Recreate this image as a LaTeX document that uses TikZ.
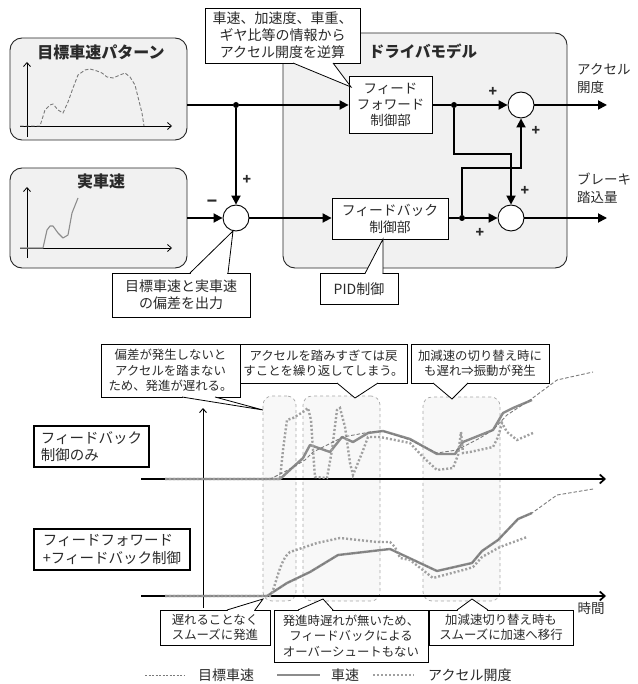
\documentclass[tikz,border=0pt]{standalone}
\usepackage{fontspec}
\setmainfont{Noto Sans CJK JP}
\usetikzlibrary{arrows.meta,calc}
\definecolor{txt}{HTML}{2A2A2A}
\definecolor{boxfill}{HTML}{F1F1F1}
\definecolor{curve}{HTML}{8C8C8C}
\definecolor{dotc}{HTML}{A0A0A0}
\definecolor{tgt}{HTML}{7A7A7A}
\definecolor{regfill}{HTML}{F8F8F8}
\definecolor{regline}{HTML}{A8A8A8}
\newcommand\callptr[3]{%
  \fill[white] (#1) -- (#2) -- (#3) -- cycle;
  \draw[white, line width=1.8pt] ($(#1)!0.7pt!(#3)$) -- ($(#3)!0.7pt!(#1)$);
  \draw[line width=0.8pt, line join=miter] (#1) -- (#2) -- (#3);
}
\begin{document}
\begin{tikzpicture}[x=1pt,y=-1pt,
  gbox/.style={draw=black!85, line width=0.9pt, rounded corners=12pt, fill=boxfill},
  blk/.style={draw=black, line width=0.8pt, fill=white, inner sep=0pt, align=center, text=txt},
  call/.style={draw=black, line width=0.8pt, fill=white, inner sep=0pt, align=center, text=txt},
  lbox/.style={draw=black, line width=1.2pt, fill=white, inner sep=0pt, align=left, text=txt,
     font=\fontsize{14.5}{17.5}\selectfont},
  sumc/.style={circle, draw=black, line width=0.9pt, fill=white, minimum size=26pt, inner sep=0pt},
  sig/.style={line width=1.8pt, -{Triangle[length=9pt,width=9pt]}},
  ln/.style={line width=1.8pt},
  jdot/.style={circle, fill=black, minimum size=6pt, inner sep=0pt},
  sgn/.style={font=\fontsize{14}{14}\selectfont\bfseries, text=txt, inner sep=0pt},
  ttl/.style={font=\fontsize{15.5}{18}\selectfont\bfseries, text=txt, inner sep=0pt},
  cf/.style={font=\fontsize{14}{17}\selectfont},
  sf/.style={font=\fontsize{12.4}{15.3}\selectfont},
  axis/.style={line width=0.8pt, -{Straight Barb[length=4pt,width=7pt]}},
  bigaxis/.style={line width=1.7pt, -{Straight Barb[length=5pt,width=9pt]}},
  spd/.style={draw=curve, line width=2.4pt, line join=round},
  acc/.style={draw=dotc, line width=2.4pt, dash pattern=on 2pt off 2pt},
  tg/.style={draw=tgt, line width=0.9pt, dash pattern=on 3.5pt off 2pt},
  reg/.style={draw=regline, fill=regfill, dashed, line width=0.7pt, rounded corners=9pt}
]
\useasboundingbox (0,0) rectangle (637,684);

% ---------------- top block diagram ----------------
\node[gbox, minimum width=284pt, minimum height=235pt] (dm) at (425,150.5) {};
\node[ttl] (dmt) at (423,51) {ドライバモデル};

\node[gbox, minimum width=177pt, minimum height=102pt] (b1) at (98.5,89) {};
\node[ttl, font=\fontsize{16}{18}\selectfont\bfseries] (b1t) at (101,52) {目標車速パターン};
\draw[axis] (27,137) -- (27,62);
\draw[axis] (20,126) -- (172,126);
\draw[tg, line width=0.9pt] (20,126) -- (40,126) -- (45,110) -- (50,105) -- (53,104) -- (58,110) -- (63,113)
  -- (68,102) -- (73,88) -- (78,75) -- (85,70) -- (90,69) -- (97,71) -- (102,73) -- (107,77)
  -- (113,78) -- (120,75) -- (125,73) -- (130,77) -- (135,85) -- (138,97) -- (142,113) -- (144,126);

\node[gbox, minimum width=177pt, minimum height=100pt] (b2) at (98.5,218) {};
\node[ttl, font=\fontsize{16}{18}\selectfont\bfseries] (b2t) at (101,181) {実車速};
\draw[axis] (27,258) -- (27,187);
\draw[axis] (20,248) -- (172,248);
\draw[draw=curve, line width=1.1pt, line join=round] (20,248) -- (43,248) -- (47,230) -- (50,226) -- (53,226)
  -- (58,233) -- (63,238) -- (68,235) -- (72,213) -- (78,198);

\node[blk, cf, font=\fontsize{13.5}{16}\selectfont, minimum width=83pt, minimum height=57pt] (ff) at (390.5,105) {フィード\\フォワード\\制御部};
\node[blk, cf, font=\fontsize{13.8}{17}\selectfont, minimum width=116pt, minimum height=41pt] (fb) at (390,218.5) {フィードバック\\制御部};

\node[sumc] (s0) at (236,218) {};
\node[sumc] (s1) at (521,105) {};
\node[sumc] (s2) at (511,218) {};
\node[jdot] (d1) at (236,105) {};
\node[jdot] (d2) at (454,105) {};
\node[jdot] (d3) at (462,218) {};
\coordinate (o1) at (607,105);
\coordinate (o2) at (607,218);

\draw[ln] (b1.east |- d1) -- (d1);
\draw[sig] (d1) -- (ff.west);
\draw[sig] (d1) -- (s0.north);
\draw[sig] (b2.east |- s0) -- (s0.west);
\draw[sig] (s0.east) -- (fb.west |- s0);
\draw[ln] (ff.east |- d2) -- (d2);
\draw[sig] (d2) -- (s1.west);
\draw[sig] (s1.east) -- (o1);
\draw[ln] (fb.east |- d3) -- (d3);
\draw[sig] (d3) -- (s2.west);
\draw[sig] (s2.east) -- (o2);
\draw[sig] (d2) |- (454,154) -| (s2.north);
\draw[sig] (d3) |- (462,168) -| (s1.south);

\node[sgn] (p1) at (247,180) {+};
\node[sgn, font=\fontsize{17}{17}\selectfont\bfseries] (m1) at (212,204) {−};
\node[sgn] (p2) at (493,92) {+};
\node[sgn] (p3) at (536,131) {+};
\node[sgn] (p4) at (525,191) {+};
\node[sgn] (p5) at (480,233) {+};

\node[anchor=north west, align=left, inner sep=0pt, text=txt, font=\fontsize{13.5}{18}\selectfont] (l1) at (577,63) {アクセル\\開度};
\node[anchor=north west, align=left, inner sep=0pt, text=txt, font=\fontsize{13.5}{18}\selectfont] (l2) at (577,173) {ブレーキ\\踏込量};

% callouts (top)
\node[call, cf, minimum width=155pt, minimum height=55pt] (c0) at (282.5,35.5) {車速、加速度、車重、\\ギヤ比等の情報から\\アクセル開度を逆算};
\coordinate (c0a) at (293,63); \coordinate (c0t) at (351,87); \coordinate (c0b) at (333,63);
\callptr{c0a}{c0t}{c0b}

\node[call, cf, minimum width=138pt, minimum height=44pt] (ce) at (181,295) {目標車速と実車速\\の偏差を出力};
\coordinate (cea) at (190,273); \coordinate (cet) at (233,231); \coordinate (ceb) at (228,273);
\callptr{cea}{cet}{ceb}

\node[call, cf, minimum width=78pt, minimum height=31pt] (cp) at (359,289) {PID制御};
\coordinate (cpa) at (365,273.5); \coordinate (cpt) at (383,239); \coordinate (cpb) at (383,273.5);
\callptr{cpa}{cpt}{cpb}

% ---------------- bottom graphs ----------------
\node[reg, minimum width=33pt, minimum height=205pt, inner sep=0pt] (r1) at (279.5,498.5) {};
\node[reg, minimum width=77pt, minimum height=205pt, inner sep=0pt] (r2) at (341.5,498.5) {};
\node[reg, minimum width=77pt, minimum height=204pt, inner sep=0pt] (r3) at (461.5,499) {};

\draw[axis, line width=0.9pt] (203,608) -- (203,408);
\draw[bigaxis] (141,479) -- (606,479);
\draw[bigaxis] (141,596) -- (606,596);
\node[inner sep=0pt, text=txt, font=\fontsize{13.5}{16}\selectfont] (tm) at (591,608) {時間};

% graph 1 (feedback only)
\draw[spd] (165,479) -- (280,479) -- (303,458) -- (310,445) -- (330,452) -- (342,437) -- (353,442)
  -- (368,433) -- (383,431) -- (410,439) -- (437,454) -- (455,454) -- (463,442) -- (493,430)
  -- (503,413) -- (513,408) -- (532,400);
\draw[acc] (165,479) -- (280,479) -- (283,450) -- (287,420) -- (293,418) -- (303,412) -- (308,408)
  -- (311,420) -- (313,450) -- (315,477) -- (327,478) -- (332,450) -- (337,410) -- (340,408)
  -- (345,427) -- (350,463) -- (353,475) -- (362,453) -- (368,437) -- (380,437) -- (410,443)
  -- (423,457) -- (437,470) -- (453,468) -- (458,455) -- (461,432) -- (463,453) -- (470,452)
  -- (493,447) -- (498,437) -- (502,423) -- (507,432) -- (517,440) -- (533,433);
\draw[tg] (165,479) -- (270,479) .. controls (285,472) and (295,466) .. (305,460)
  -- (313,452) -- (343,437) -- (370,432) -- (383,431) -- (410,440) -- (437,453) -- (457,450)
  -- (480,438) -- (493,430) -- (507,415) -- (530,400) -- (557,380) -- (593,372);

% graph 2 (feedforward + feedback)
\draw[spd] (165,596) -- (267,596) -- (287,583) -- (310,572) -- (338,555) -- (390,549) -- (437,571)
  -- (472,563) -- (482,551) -- (498,540) -- (518,519) -- (532,513);
\draw[acc] (165,596) -- (270,596) .. controls (276,588) and (279,560) .. (290,552)
  -- (317,543) -- (340,538) -- (377,542) -- (390,542) -- (395,547) -- (400,558) -- (410,560)
  -- (433,578) -- (467,569) -- (473,567) -- (482,557) -- (500,547) -- (527,537);
\draw[tg] (165,596) -- (267,596) -- (287,583) -- (310,572) -- (338,555) -- (390,549) -- (437,571)
  -- (472,563) -- (482,551) -- (498,540) -- (518,519) -- (532,513) -- (557,495) -- (593,489);

% label boxes
\node[lbox, minimum width=115pt, minimum height=41pt] (lb1) at (91.5,446.5) {フィードバック\\制御のみ};
\node[lbox, minimum width=156pt, minimum height=41pt] (lb2) at (112,549.5) {フィードフォワード\\+フィードバック制御};

% bottom callouts
\node[call, sf, minimum width=139pt, minimum height=53pt] (k1) at (170.5,370.5) {偏差が発生しないと\\アクセルを踏まない\\ため、発進が遅れる。};
\coordinate (k1a) at (182,397); \coordinate (k1t) at (263,410); \coordinate (k1b) at (215,397);
\callptr{k1a}{k1t}{k1b}

\node[call, sf, minimum width=167pt, minimum height=39pt] (k2) at (323.5,363.5) {アクセルを踏みすぎては戻\\すことを繰り返してしまう。};
\coordinate (k2a) at (337,383); \coordinate (k2t) at (355,398); \coordinate (k2b) at (378,383);
\callptr{k2a}{k2t}{k2b}

\node[call, sf, minimum width=138pt, minimum height=39pt] (k3) at (480,363.5) {加減速の切り替え時に\\も遅れ⇒振動が発生};
\coordinate (k3a) at (433,383); \coordinate (k3t) at (452,399); \coordinate (k3b) at (468,383);
\callptr{k3a}{k3t}{k3b}

\node[call, sf, minimum width=110pt, minimum height=35pt] (k4) at (215,627.5) {遅れることなく\\スムーズに発進};
\coordinate (k4a) at (227,610); \coordinate (k4t) at (263,599); \coordinate (k4b) at (255,610);
\callptr{k4a}{k4t}{k4b}

\node[call, sf, minimum width=154pt, minimum height=52pt] (k5) at (351,636) {発進時遅れが無いため、\\フィードバックによる\\オーバーシュートもない};
\coordinate (k5a) at (298,610); \coordinate (k5t) at (323,599); \coordinate (k5b) at (333,610);
\callptr{k5a}{k5t}{k5b}

\node[call, sf, minimum width=144pt, minimum height=35pt] (k6) at (501,627.5) {加減速切り替え時も\\スムーズに加速へ移行};
\coordinate (k6a) at (457,610); \coordinate (k6t) at (472,599); \coordinate (k6b) at (488,610);
\callptr{k6a}{k6t}{k6b}

% legend
\coordinate (lg1a) at (145,675); \coordinate (lg1b) at (185,675);
\draw[tg, dash pattern=on 2pt off 1.5pt] (lg1a) -- (lg1b);
\node[anchor=west, inner sep=0pt, text=txt, font=\fontsize{14}{16}\selectfont] (lgt1) at (198,675) {目標車速};
\coordinate (lg2a) at (277,675); \coordinate (lg2b) at (320,675);
\draw[spd] (lg2a) -- (lg2b);
\node[anchor=west, inner sep=0pt, text=txt, font=\fontsize{14}{16}\selectfont] (lgt2) at (331,675) {車速};
\coordinate (lg3a) at (373,675); \coordinate (lg3b) at (414,675);
\draw[acc] (lg3a) -- (lg3b);
\node[anchor=west, inner sep=0pt, text=txt, font=\fontsize{14}{16}\selectfont] (lgt3) at (428,675) {アクセル開度};
\end{tikzpicture}
\end{document}
